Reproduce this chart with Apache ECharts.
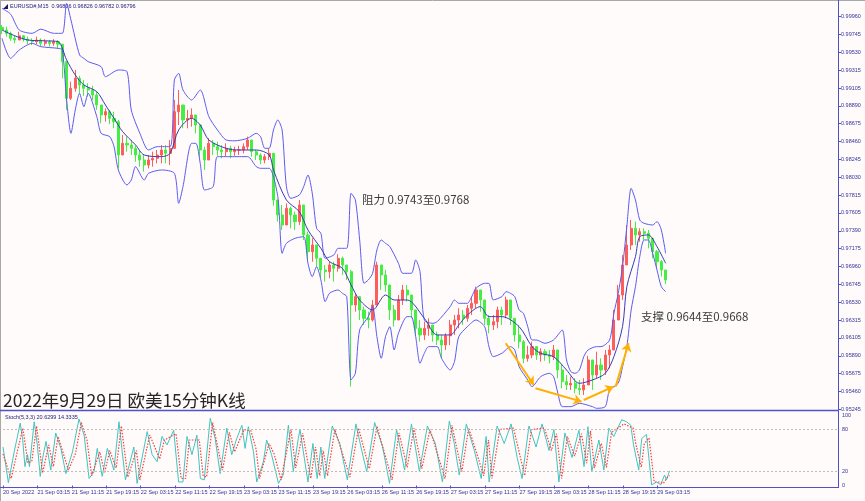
<!DOCTYPE html>
<html><head><meta charset="utf-8">
<script src="https://cdn.jsdelivr.net/npm/echarts/dist/echarts.min.js"></script>
<style>html,body{margin:0;padding:0;background:#fffbfa;}#c{width:865px;height:501px;}</style>
</head><body><div id="c"></div>
<script>
const timeLabels = ['20 Sep 2022','21 Sep 03:15','21 Sep 11:15','21 Sep 19:15','22 Sep 03:15','22 Sep 11:15','22 Sep 19:15','23 Sep 03:15','23 Sep 11:15','23 Sep 19:15','26 Sep 03:15','26 Sep 11:15','26 Sep 19:15','27 Sep 03:15','27 Sep 11:15','27 Sep 19:15','28 Sep 03:15','28 Sep 11:15','28 Sep 19:15','29 Sep 03:15'];
const priceTicks = ['0.95245','0.95460','0.95675','0.95890','0.96105','0.96315','0.96530','0.96745','0.96960','0.97175','0.97390','0.97605','0.97815','0.98030','0.98245','0.98460','0.98675','0.98890','0.99105','0.99315','0.99530','0.99745','0.99960'];
const stochTicks = [0, 20, 80, 100];

const opens = [
0.9983,0.9980,0.9976,0.9970,0.9968,0.9973,0.9969,0.9967,0.9966,0.9968,
0.9964,0.9966,0.9964,0.9966,0.9963,0.9942,0.9898,0.9910,0.9922,0.9914,
0.9910,0.9908,0.9902,0.9890,0.9878,0.9882,0.9874,0.9870,0.9830,0.9844,
0.9842,0.9838,0.9830,0.9824,0.9818,0.9824,0.9826,0.9830,0.9836,0.9832,
0.9838,0.9882,0.9890,0.9872,0.9874,0.9878,0.9866,0.9836,0.9824,0.9844,
0.9840,0.9836,0.9834,0.9838,0.9834,0.9836,0.9836,0.9840,0.9848,0.9834,
0.9830,0.9824,0.9828,0.9832,0.9776,0.9758,0.9746,0.9766,0.9758,0.9750,
0.9770,0.9734,0.9714,0.9722,0.9706,0.9692,0.9690,0.9698,0.9694,0.9706,
0.9698,0.9690,0.9650,0.9660,0.9644,0.9634,0.9632,0.9650,0.9698,0.9686,
0.9674,0.9644,0.9632,0.9656,0.9668,0.9662,0.9644,0.9622,0.9614,0.9622,
0.9626,0.9614,0.9608,0.9602,0.9613,0.9626,0.9632,0.9638,0.9634,0.9646,
0.9652,0.9668,0.9656,0.9634,0.9626,0.9630,0.9644,0.9638,0.9656,0.9634,
0.9614,0.9606,0.9586,0.9590,0.9600,0.9590,0.9594,0.9590,0.9588,0.9596,
0.9572,0.9558,0.9554,0.9556,0.9550,0.9548,0.9554,0.9584,0.9566,0.9578,
0.9572,0.9590,0.9596,0.9632,0.9662,0.9698,0.9722,0.9742,0.9734,0.9738,
0.9736,0.9730,0.9714,0.9702,0.9692];
const closes = [
0.9980,0.9976,0.9970,0.9968,0.9973,0.9969,0.9967,0.9966,0.9968,0.9964,
0.9966,0.9964,0.9966,0.9963,0.9942,0.9898,0.9910,0.9922,0.9914,0.9910,
0.9908,0.9902,0.9890,0.9878,0.9882,0.9874,0.9870,0.9830,0.9844,0.9842,
0.9838,0.9830,0.9824,0.9818,0.9824,0.9826,0.9830,0.9836,0.9832,0.9838,
0.9882,0.9890,0.9872,0.9874,0.9878,0.9866,0.9836,0.9824,0.9844,0.9840,
0.9836,0.9834,0.9838,0.9834,0.9836,0.9836,0.9840,0.9848,0.9834,0.9830,
0.9824,0.9828,0.9832,0.9776,0.9758,0.9746,0.9766,0.9758,0.9750,0.9770,
0.9734,0.9714,0.9722,0.9706,0.9692,0.9690,0.9698,0.9694,0.9706,0.9698,
0.9690,0.9650,0.9660,0.9644,0.9634,0.9632,0.9650,0.9698,0.9686,0.9674,
0.9644,0.9632,0.9656,0.9668,0.9662,0.9644,0.9622,0.9614,0.9622,0.9626,
0.9614,0.9608,0.9602,0.9613,0.9626,0.9632,0.9638,0.9634,0.9646,0.9652,
0.9668,0.9656,0.9634,0.9626,0.9630,0.9644,0.9638,0.9656,0.9634,0.9614,
0.9606,0.9586,0.9590,0.9600,0.9590,0.9594,0.9590,0.9588,0.9596,0.9572,
0.9558,0.9554,0.9556,0.9550,0.9548,0.9554,0.9584,0.9566,0.9578,0.9572,
0.9590,0.9596,0.9632,0.9662,0.9698,0.9722,0.9742,0.9734,0.9738,0.9736,
0.9730,0.9714,0.9702,0.9692,0.9680];
const highs = [
0.9986,0.9984,0.9978,0.9973,0.9978,0.9974,0.9972,0.9970,0.9972,0.9970,
0.9969,0.9968,0.9969,0.9968,0.9963,0.9926,0.9918,0.9932,0.9925,0.9920,
0.9916,0.9913,0.9906,0.9890,0.9886,0.9884,0.9882,0.9872,0.9854,0.9852,
0.9848,0.9841,0.9836,0.9830,0.9830,0.9834,0.9836,0.9842,0.9842,0.9848,
0.9896,0.9908,0.9886,0.9884,0.9886,0.9878,0.9866,0.9840,0.9850,0.9848,
0.9846,0.9842,0.9844,0.9841,0.9840,0.9841,0.9844,0.9852,0.9846,0.9836,
0.9832,0.9831,0.9838,0.9824,0.9776,0.9770,0.9772,0.9768,0.9762,0.9776,
0.9754,0.9738,0.9730,0.9720,0.9704,0.9698,0.9702,0.9702,0.9711,0.9708,
0.9698,0.9692,0.9664,0.9656,0.9648,0.9642,0.9656,0.9702,0.9698,0.9692,
0.9668,0.9650,0.9662,0.9674,0.9674,0.9658,0.9642,0.9632,0.9630,0.9634,
0.9625,0.9618,0.9614,0.9616,0.9632,0.9638,0.9646,0.9644,0.9650,0.9660,
0.9672,0.9666,0.9650,0.9638,0.9638,0.9648,0.9648,0.9660,0.9650,0.9634,
0.9626,0.9608,0.9601,0.9606,0.9598,0.9598,0.9597,0.9596,0.9602,0.9594,
0.9578,0.9566,0.9564,0.9562,0.9560,0.9562,0.9589,0.9584,0.9594,0.9586,
0.9596,0.9602,0.9644,0.9674,0.9710,0.9746,0.9752,0.9750,0.9742,0.9742,
0.9740,0.9728,0.9716,0.9704,0.9692];
const lows = [
0.9975,0.9972,0.9967,0.9964,0.9968,0.9966,0.9963,0.9962,0.9963,0.9960,
0.9961,0.9960,0.9961,0.9958,0.9922,0.9884,0.9896,0.9906,0.9904,0.9901,
0.9900,0.9896,0.9884,0.9868,0.9870,0.9867,0.9862,0.9814,0.9836,0.9834,
0.9830,0.9822,0.9816,0.9810,0.9814,0.9816,0.9820,0.9820,0.9820,0.9818,
0.9846,0.9866,0.9862,0.9862,0.9864,0.9856,0.9828,0.9812,0.9826,0.9830,
0.9829,0.9826,0.9828,0.9826,0.9829,0.9830,0.9832,0.9836,0.9828,0.9824,
0.9819,0.9820,0.9824,0.9769,0.9750,0.9740,0.9746,0.9742,0.9740,0.9746,
0.9728,0.9702,0.9702,0.9696,0.9682,0.9678,0.9682,0.9678,0.9690,0.9686,
0.9680,0.9552,0.9642,0.9632,0.9626,0.9622,0.9630,0.9656,0.9668,0.9666,
0.9632,0.9624,0.9634,0.9650,0.9654,0.9634,0.9614,0.9606,0.9608,0.9613,
0.9606,0.9602,0.9586,0.9596,0.9602,0.9614,0.9622,0.9626,0.9630,0.9638,
0.9646,0.9642,0.9626,0.9616,0.9620,0.9622,0.9626,0.9634,0.9626,0.9606,
0.9598,0.9580,0.9582,0.9586,0.9584,0.9582,0.9583,0.9580,0.9584,0.9562,
0.9550,0.9548,0.9548,0.9544,0.9542,0.9542,0.9554,0.9548,0.9562,0.9560,
0.9566,0.9574,0.9596,0.9632,0.9656,0.9698,0.9716,0.9722,0.9726,0.9728,
0.9718,0.9706,0.9694,0.9684,0.9675];

const bbUpper = [[0,1.0006],[2,0.9999],[4,0.9980],[7,0.9976],[9,0.9981],[12,0.9976],[14,0.9976],[15,1.0012],[16,0.9992],[18,0.9950],[19,0.9946],[20,0.9942],[23,0.9936],[24,0.9924],[27,0.9932],[29,0.9930],[30,0.9884],[32,0.9856],[34,0.9836],[36,0.9840],[39,0.9840],[40,0.9920],[41,0.9928],[42,0.9908],[44,0.9896],[46,0.9908],[48,0.9876],[50,0.9860],[52,0.9848],[54,0.9847],[57,0.9850],[59,0.9856],[60,0.9852],[61,0.9838],[62,0.9838],[63,0.9860],[64,0.9872],[65,0.9860],[66,0.9792],[67,0.9778],[69,0.9782],[70,0.9792],[71,0.9806],[72,0.9784],[73,0.9742],[74,0.9736],[75,0.9706],[77,0.9710],[78,0.9718],[80,0.9718],[81,0.9784],[82,0.9776],[83,0.9728],[84,0.9676],[85,0.9680],[86,0.9688],[87,0.9716],[88,0.9728],[89,0.9724],[90,0.9720],[92,0.9700],[93,0.9688],[95,0.9688],[96,0.9704],[97,0.9690],[98,0.9632],[100,0.9628],[101,0.9630],[104,0.9648],[105,0.9656],[106,0.9652],[108,0.9652],[109,0.9660],[110,0.9670],[112,0.9676],[113,0.9676],[114,0.9656],[116,0.9660],[117,0.9666],[118,0.9664],[119,0.9660],[120,0.9644],[121,0.9640],[122,0.9624],[123,0.9608],[124,0.9608],[126,0.9604],[128,0.9608],[130,0.9620],[131,0.9584],[132,0.9570],[133,0.9568],[134,0.9572],[135,0.9588],[136,0.9596],[138,0.9600],[139,0.9600],[141,0.9608],[142,0.9640],[143,0.9664],[144,0.9696],[145,0.9744],[146,0.9790],[147,0.9776],[148,0.9752],[149,0.9748],[151,0.9746],[152,0.9750],[153,0.9740],[154,0.9712]];
const bbLower = [[0,0.9970],[2,0.9946],[4,0.9956],[7,0.9964],[9,0.9960],[13,0.9958],[14,0.9956],[15,0.9896],[16,0.9856],[17,0.9884],[18,0.9904],[19,0.9888],[20,0.9904],[22,0.9876],[23,0.9856],[25,0.9852],[26,0.9840],[27,0.9812],[29,0.9794],[30,0.9800],[31,0.9816],[33,0.9800],[34,0.9808],[37,0.9812],[40,0.9808],[41,0.9772],[42,0.9792],[44,0.9844],[45,0.9844],[46,0.9820],[47,0.9788],[49,0.9792],[50,0.9828],[53,0.9828],[57,0.9828],[59,0.9816],[60,0.9814],[62,0.9814],[64,0.9780],[65,0.9712],[66,0.9724],[68,0.9730],[70,0.9732],[71,0.9700],[72,0.9684],[73,0.9696],[74,0.9680],[75,0.9654],[76,0.9664],[78,0.9668],[79,0.9664],[80,0.9660],[81,0.9560],[82,0.9568],[83,0.9620],[85,0.9636],[86,0.9648],[87,0.9612],[88,0.9586],[89,0.9612],[90,0.9624],[91,0.9596],[92,0.9616],[94,0.9636],[95,0.9636],[96,0.9612],[97,0.9580],[98,0.9592],[99,0.9600],[101,0.9600],[102,0.9586],[104,0.9572],[105,0.9582],[106,0.9612],[108,0.9624],[110,0.9632],[112,0.9624],[113,0.9600],[114,0.9588],[116,0.9592],[118,0.9600],[119,0.9596],[120,0.9576],[122,0.9560],[123,0.9552],[125,0.9564],[127,0.9568],[128,0.9564],[129,0.9544],[130,0.9528],[132,0.9528],[134,0.9532],[137,0.9528],[138,0.9526],[140,0.9528],[141,0.9548],[143,0.9556],[144,0.9576],[145,0.9600],[146,0.9644],[147,0.9672],[148,0.9708],[149,0.9728],[150,0.9728],[151,0.9712],[152,0.9692],[153,0.9672],[154,0.9666]];
const bbMiddle = [[0,0.9980],[3,0.9973],[6,0.9968],[10,0.9967],[13,0.9966],[15,0.9944],[17,0.9926],[19,0.9914],[22,0.9906],[24,0.9890],[26,0.9874],[28,0.9858],[31,0.9842],[33,0.9830],[37,0.9828],[39,0.9832],[41,0.9860],[44,0.9874],[46,0.9866],[48,0.9848],[52,0.9838],[55,0.9836],[59,0.9836],[62,0.9830],[63,0.9812],[66,0.9776],[69,0.9762],[71,0.9740],[74,0.9718],[76,0.9702],[79,0.9694],[81,0.9674],[83,0.9656],[86,0.9644],[89,0.9662],[91,0.9656],[94,0.9656],[98,0.9634],[101,0.9614],[104,0.9614],[106,0.9626],[108,0.9638],[111,0.9648],[113,0.9636],[116,0.9636],[120,0.9624],[123,0.9600],[125,0.9592],[128,0.9588],[131,0.9572],[134,0.9556],[137,0.9560],[140,0.9568],[142,0.9588],[144,0.9624],[145,0.9672],[147,0.9708],[148,0.9732],[150,0.9734],[152,0.9720],[154,0.9700]];

const stochK = [[0,55],[1.25,4],[2.6,48],[4,89],[4.55,67],[5.1,27],[5.7,44],[6.15,27],[7.25,91],[8,57],[8.65,13],[9.2,39],[10,63],[11.1,22],[12.25,75],[13.45,53],[14.6,17],[16.15,48],[17.65,95],[18.85,72],[20,10],[21.15,20],[21.9,53],[23.05,13],[24.25,53],[25.75,22],[26.95,91],[27.7,48],[28.45,8],[30.4,55],[31.15,3],[33.5,77],[34.65,44],[35.8,34],[36.95,70],[38.1,58],[39.65,79],[40.8,5],[41.8,5],[42.75,70],[43.9,44],[45.05,72],[45.85,10],[46.75,8],[48.15,96],[49.3,67],[50.45,17],[52,82],[53.15,44],[54.3,67],[55.5,86],[56.25,53],[57,84],[58.2,48],[58.95,5],[60.5,34],[61.25,65],[62.4,44],[64,3],[65.1,15],[66.3,86],[67.45,20],[68.6,67],[69,80],[70.85,5],[72,60],[73,10],[73.85,55],[74.75,10],[76.5,85],[78.25,60],[80,8],[82,88],[83.35,50],[84.5,20],[86.35,90],[88.2,55],[89.8,3],[91.45,80],[93.3,22],[94.9,88],[96.75,20],[98.6,85],[100.45,60],[102.1,5],[103.7,92],[104.85,60],[106,15],[107.65,88],[109.5,50],[111.1,10],[112.25,70],[112.95,5],[114.8,85],[116.45,60],[118.05,88],[119.45,40],[120.6,10],[122.2,85],[123.85,55],[125.25,88],[126.85,50],[128,80],[129.15,5],[130.55,75],[132.2,40],[133.8,79],[135,27],[135.9,84],[136.8,20],[138.45,65],[139.6,22],[140.75,82],[141.9,70],[143.75,94],[144.9,91],[145.85,86],[146.5,58],[147.7,22],[148.4,67],[149.5,73],[150.7,1],[151.85,5],[152.8,1],[153.7,15],[154.15,8],[154.85,20.6]];
const stochD = [[0,45],[1.9,10],[3.2,45],[4.6,82],[5.8,32],[6.7,35],[7.8,85],[9.2,18],[10.6,58],[11.7,27],[12.8,70],[15.2,22],[16.8,45],[18.2,90],[19.5,65],[20.6,14],[22.5,48],[23.6,18],[24.8,50],[26.3,25],[27.5,85],[29,12],[31,50],[31.8,8],[34.1,72],[36.4,38],[37.5,65],[40.2,74],[41.4,10],[42.4,10],[43.3,65],[45.6,65],[46.5,14],[47.3,12],[48.7,90],[51,22],[52.6,76],[53.8,48],[56,80],[57.6,78],[58.8,52],[59.6,10],[61.8,60],[63,45],[64.6,8],[66.9,80],[68,25],[69.6,75],[71.5,10],[72.6,55],[73.6,14],[74.4,50],[75.4,14],[77.1,80],[80.6,12],[82.6,82],[85.1,24],[86.9,84],[90.4,8],[92,75],[93.9,26],[95.5,82],[97.3,24],[99.2,80],[102.7,10],[104.3,86],[106.6,20],[108.2,82],[111.7,14],[112.8,65],[113.6,10],[115.4,80],[118.6,82],[121.2,14],[122.8,80],[125.8,82],[127.4,50],[128.6,74],[129.8,10],[131.1,70],[132.8,42],[134.4,74],[135.6,32],[136.5,78],[137.4,25],[139,60],[140.2,26],[141.4,76],[144.3,88],[146.4,82],[147,60],[148.3,26],[149,60],[150.1,68],[151.3,5],[152.4,5],[153.4,3],[154.4,12],[154.85,14.3]];

const arrowSegs = [[[116.9,0.9604],[123.4,0.9554]],[[123.8,0.9550],[134.5,0.9534]],[[135,0.9536],[141.9,0.9552]],[[142.4,0.9552],[145.4,0.9604]]];
const lastPrice = 0.96796;

const cats = Array.from({length:195}, (_, i) => 'b' + i);
const candleData = closes.map((c, i) => [opens[i], c, lows[i], highs[i]]);
const BLUE = '#5050c8', TXT = '#33339a', SMALL = 5.5, FF = 'Liberation Sans';

const chart = echarts.init(document.getElementById('c'));
chart.setOption({
  backgroundColor: '#fffbfa',
  animation: false,
  grid: [
    {left: 2, right: 27, top: 3, height: 406.3},
    {left: 2, right: 27, top: 415.5, height: 70}
  ],
  xAxis: [
    {type: 'category', gridIndex: 0, data: cats, boundaryGap: false, show: false},
    {type: 'value', gridIndex: 0, min: 0, max: 194, show: false},
    {type: 'category', gridIndex: 1, data: cats, boundaryGap: false, offset: 2,
      axisLine: {show: false},
      axisTick: {show: true, length: 3, lineStyle: {color: BLUE}, interval: (i) => i % 8 === 0 && i / 8 < timeLabels.length},
      axisLabel: {fontSize: SMALL, fontFamily: FF, color: TXT, align: 'left', margin: 2,
        interval: (i) => i % 8 === 0 && i / 8 < timeLabels.length,
        formatter: (v, i) => timeLabels[i / 8] || ''},
      splitLine: {show: false}},
    {type: 'value', gridIndex: 1, min: 0, max: 194, show: false}
  ],
  yAxis: [
    {type: 'value', gridIndex: 0, min: 0.95248, max: 1.00124, show: false},
    {type: 'value', gridIndex: 0, min: 0, max: 22.765, interval: 1, position: 'right',
      axisLine: {show: false}, splitLine: {show: false},
      axisTick: {show: true, length: 3, lineStyle: {color: BLUE}},
      axisLabel: {fontSize: SMALL, fontFamily: FF, color: TXT, margin: 3, showMaxLabel: false,
        formatter: (v) => priceTicks[Math.round(v)] || ''}},
    {type: 'value', gridIndex: 1, min: 0, max: 100, interval: 20, position: 'right',
      axisLine: {show: false}, splitLine: {show: false},
      axisTick: {show: false},
      axisLabel: {fontSize: SMALL, fontFamily: FF, color: TXT, margin: 4,
        formatter: (v) => stochTicks.includes(v) ? String(v) : ''}}
  ],
  series: [
    {type: 'candlestick', xAxisIndex: 0, yAxisIndex: 0, data: candleData, barWidth: 2.6,
      itemStyle: {color: '#ff5c5c', color0: '#44ee44', borderColor: '#ff5c5c', borderColor0: '#44ee44', borderWidth: 1},
      markLine: {silent: true, symbol: 'none', animation: false,
        lineStyle: {opacity: 0},
        label: {show: true, position: 'end', formatter: lastPrice.toFixed(5), color: '#fff', backgroundColor: '#1e1ec8',
          fontSize: SMALL, fontFamily: FF, padding: [1, 2], distance: 1},
        data: [{yAxis: lastPrice}]}},
    {type: 'line', xAxisIndex: 1, yAxisIndex: 0, data: bbUpper, symbol: 'none', smooth: 0.25,
      lineStyle: {color: '#5b5bf0', width: 1}},
    {type: 'line', xAxisIndex: 1, yAxisIndex: 0, data: bbLower, symbol: 'none', smooth: 0.25,
      lineStyle: {color: '#5b5bf0', width: 1}},
    {type: 'line', xAxisIndex: 1, yAxisIndex: 0, data: bbMiddle, symbol: 'none', smooth: 0.3,
      lineStyle: {color: '#3a3ab8', width: 1}},
    {type: 'line', xAxisIndex: 1, yAxisIndex: 0, data: [], symbol: 'none',
      markLine: {silent: true, symbol: ['none', 'arrow'], symbolSize: 8, animation: false,
        lineStyle: {color: '#ffb000', width: 2, type: 'solid'}, label: {show: false},
        data: arrowSegs.map(s => [{coord: s[0]}, {coord: s[1]}])}},
    {type: 'line', xAxisIndex: 3, yAxisIndex: 2, data: stochK, symbol: 'none',
      lineStyle: {color: '#3ec6c0', width: 1},
      markLine: {silent: true, symbol: 'none', animation: false, label: {show: false},
        lineStyle: {color: '#bdbdbd', type: [2, 2], width: 1},
        data: [{yAxis: 20}, {yAxis: 80}]}},
    {type: 'line', xAxisIndex: 3, yAxisIndex: 2, data: stochD, symbol: 'none',
      lineStyle: {color: '#ff3b3b', width: 1.2, type: [1.5, 1.5]}}
  ],
  graphic: [
    {type: 'line', shape: {x1: 0, y1: 0.5, x2: 865, y2: 0.5}, style: {stroke: '#a8a8a8', lineWidth: 1}, silent: true},
    {type: 'line', shape: {x1: 0.5, y1: 0, x2: 0.5, y2: 501}, style: {stroke: '#a8a8a8', lineWidth: 1}, silent: true},
    {type: 'line', shape: {x1: 838.5, y1: 0, x2: 838.5, y2: 488}, style: {stroke: BLUE, lineWidth: 1}, silent: true},
    {type: 'line', shape: {x1: 0, y1: 410.5, x2: 838, y2: 410.5}, style: {stroke: BLUE, lineWidth: 1.5}, silent: true},
    {type: 'line', shape: {x1: 0, y1: 487.5, x2: 838, y2: 487.5}, style: {stroke: BLUE, lineWidth: 1}, silent: true},
    {type: 'polygon', shape: {points: [[3, 9], [8, 4], [8, 9]]}, style: {fill: '#1a1a60'}, silent: true},
    {type: 'text', left: 10, top: 3.5, silent: true,
      style: {text: 'EURUSD#,M15  0.96806 0.96826 0.96782 0.96796', fontSize: SMALL, fontFamily: FF, fill: '#22227a'}},
    {type: 'text', left: 5, top: 414.5, silent: true,
      style: {text: 'Stoch(5,3,3) 20.6299 14.3335', fontSize: SMALL, fontFamily: FF, fill: '#22227a'}},
    {type: 'text', left: 3, top: 392, silent: true,
      style: {text: '2022年9月29日 欧美15分钟K线', fontSize: 17.5, fontFamily: 'Noto Sans CJK SC', fill: '#262626'}},
    {type: 'text', left: 362, top: 194, silent: true,
      style: {text: '阻力 0.9743至0.9768', fontSize: 11.5, fontFamily: 'Noto Sans CJK SC', fill: '#3c3c3c'}},
    {type: 'text', left: 641, top: 311, silent: true,
      style: {text: '支撑 0.9644至0.9668', fontSize: 11.5, fontFamily: 'Noto Sans CJK SC', fill: '#3c3c3c'}}
  ]
});
</script></body></html>
